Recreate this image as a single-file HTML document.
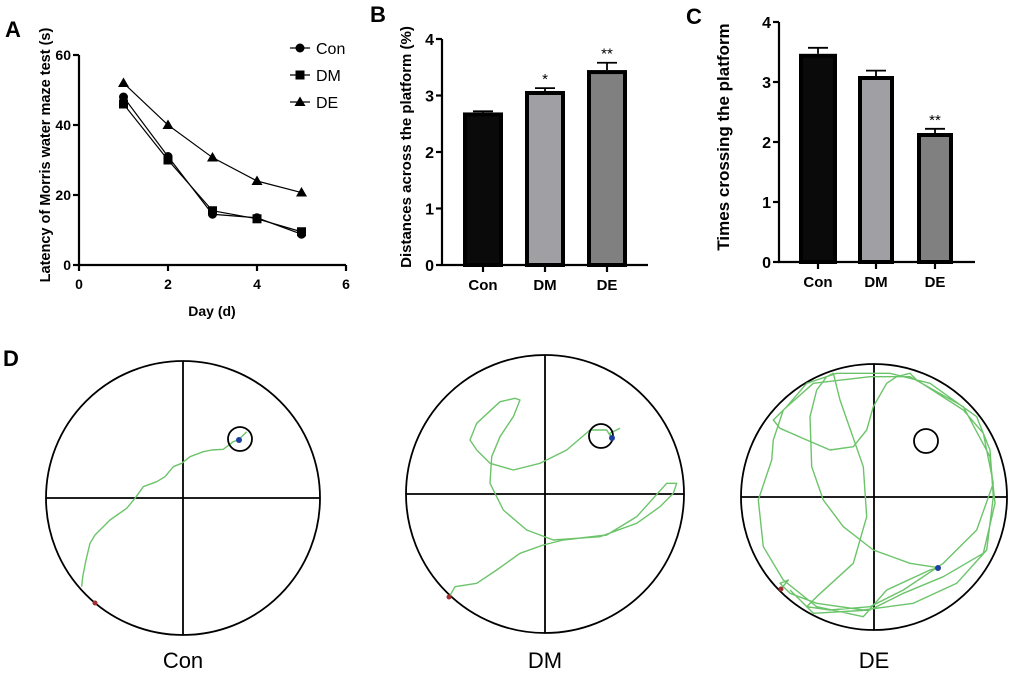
<!DOCTYPE html>
<html><head><meta charset="utf-8"><style>
html,body{margin:0;padding:0;background:#fff;}
svg text{font-family:"Liberation Sans",Arial,sans-serif;}
</style></head><body>
<svg id="fig" width="1020" height="682" viewBox="0 0 1020 682" xmlns="http://www.w3.org/2000/svg">
<g id="A"></g>
<g id="B"></g>
<g id="C"></g>
<g id="D"></g>
</svg>
<script>
const days=[1,2,3,4,5];
const conLatency=[48,31,14.5,13.5,8.8];
const dmLatency=[46,30,15.5,13.2,9.5];
const deLatency=[52,40,30.7,24,20.7];
const aXTicks=[0,2,4,6];
const aYTicks=[0,20,40,60];
const groups=["Con","DM","DE"];
const bValues=[2.7,3.08,3.45];
const bErrors=[0.02,0.05,0.13];
const bStars=["","*","**"];
const cValues=[3.47,3.1,2.15];
const cErrors=[0.1,0.09,0.07];
const cStars=["","","**"];
const barTicks=[0,1,2,3,4];

const NS="http://www.w3.org/2000/svg";
function mk(parent,tag,attrs,text){const e=document.createElementNS(NS,tag);for(const k in attrs)e.setAttribute(k,attrs[k]);if(text!==undefined)e.textContent=text;parent.appendChild(e);return e;}

// Panel A
(function(){
const g=document.getElementById('A');
const x=v=>79+(v/6)*267, y=v=>265-(v/60)*210;
let t=mk(g,'text',{x:5,y:37,'font-size':22,'font-weight':'bold'},'A');


let ax=mk(g,'path',{d:`M79,${y(60)} V265 H346`,stroke:'#000','stroke-width':2.2,fill:'none'});


aXTicks.forEach(v=>{mk(g,'line',{x1:x(v),x2:x(v),y1:265,y2:271,stroke:'#000','stroke-width':2.2});
 let l=mk(g,'text',{x:x(v),y:289,'font-size':14,'font-weight':'bold','text-anchor':'middle'},v);
 
 });
aYTicks.forEach(v=>{mk(g,'line',{x1:73,x2:79,y1:y(v),y2:y(v),stroke:'#000','stroke-width':2.2});
 let l=mk(g,'text',{x:71,y:y(v)+5,'font-size':14,'font-weight':'bold','text-anchor':'end'},v);
 
 });
let xt=mk(g,'text',{x:212,y:316,'font-size':14,'font-weight':'bold','text-anchor':'middle'},'Day (d)');


let yt=mk(g,'text',{x:0,y:0,'font-size':14.5,'font-weight':'bold','text-anchor':'middle',transform:'translate(50,155) rotate(-90)'},'Latency of Morris water maze test  (s)');


function marker(gp,shape,cx,cy){
 if(shape==='c')return mk(gp,'circle',{cx:cx,cy:cy,r:4.5,fill:'#000'});
 if(shape==='s')return mk(gp,'rect',{x:cx-4.5,y:cy-4.5,width:9,height:9,fill:'#000'});
 return mk(gp,'path',{d:`M${cx},${cy-5.5} L${cx+5.5},${cy+4} L${cx-5.5},${cy+4}Z`,fill:'#000'});}
const series=[[conLatency,'c','Con'],[dmLatency,'s','DM'],[deLatency,'t','DE']];
series.forEach((s,i)=>{
 const gp=mk(g,'g',{});
 
 
 mk(gp,'polyline',{points:days.map((d,j)=>x(d)+','+y(s[0][j])).join(' '),fill:'none',stroke:'#000','stroke-width':1.2});
 days.forEach((d,j)=>{const m=marker(gp,s[1],x(d),y(s[0][j]));
  
  });
 const ly=48+i*27;
 const lg=mk(g,'g',{});
 
 
 mk(lg,'line',{x1:290,x2:310,y1:ly,y2:ly,stroke:'#000','stroke-width':1.2});
 marker(lg,s[1],300,ly);
 mk(lg,'text',{x:316,y:ly+6,'font-size':16},s[2]);
});
})();

function bars(id,letter,lx,ly,ax,y0,y4,xEnd,lefts,rights,vals,errs,stars,title,tx,tfs){
 const g=document.getElementById(id);
 const y=v=>y0-(v/4)*(y0-y4);
 let t=mk(g,'text',{x:lx,y:ly,'font-size':22,'font-weight':'bold'},letter);
 
 
 const fills=['#0a0a0a','#a0a0a4','#808080'];
 groups.forEach((gname,i)=>{
  const l=lefts[i],r=rights[i],c=(l+r)/2;
  const bg=mk(g,'g',{});
  
  
  mk(bg,'line',{x1:c,x2:c,y1:y(vals[i]),y2:y(vals[i]+errs[i]),stroke:'#000','stroke-width':1.8});
  mk(bg,'line',{x1:c-10,x2:c+10,y1:y(vals[i]+errs[i]),y2:y(vals[i]+errs[i]),stroke:'#000','stroke-width':1.8});
  mk(bg,'rect',{x:l+2,y:y(vals[i])+2,width:r-l-4,height:y0-y(vals[i])-2,fill:fills[i],stroke:'#000','stroke-width':4});
  if(stars[i]){mk(bg,'text',{x:c,y:y(vals[i]+errs[i])-4,'font-size':15,'text-anchor':'middle'},stars[i]);}
  mk(g,'line',{x1:c,x2:c,y1:y0,y2:y0+7,stroke:'#000','stroke-width':2.2});
  let lb=mk(g,'text',{x:c,y:y0+25,'font-size':15,'font-weight':'bold','text-anchor':'middle'},gname);
  
  
 });
 let a=mk(g,'path',{d:`M${ax},${y4} V${y0} H${xEnd}`,stroke:'#000','stroke-width':2.2,fill:'none'});
 
 
 barTicks.forEach(v=>{mk(g,'line',{x1:ax-6,x2:ax,y1:y(v),y2:y(v),stroke:'#000','stroke-width':2.2});
  let l=mk(g,'text',{x:ax-8,y:y(v)+6,'font-size':16,'font-weight':'bold','text-anchor':'end'},v);
  
  });
 let yt=mk(g,'text',{x:0,y:0,'font-size':tfs,'font-weight':'bold','text-anchor':'middle',transform:`translate(${tx},${(y0+y4)/2-5}) rotate(-90)`},title);
 
 
}
bars('B','B',370,22,442,265,39,648,[463,525,587],[503,565,627],bValues,bErrors,bStars,'Distances across the platform (%)',411,15);
bars('C','C',686,24,779,262,22,975,[799,858,917],[837,894,953],cValues,cErrors,cStars,'Times crossing the platform',729,17);

// Panel D
(function(){
const g=document.getElementById('D');
let t=mk(g,'text',{x:3,y:366,'font-size':22,'font-weight':'bold'},'D');


const arenas=[
 {name:'Con',cx:183,cy:498,r:137,plat:[240,439],blue:[239,440],red:[95,603],off:[0,310],
  pts:[[245,830],[248,800],[258,750],[270,700],[285,675],[330,630],[380,595],[405,565],[430,530],[470,515],[495,500],[520,470],[545,460],[570,440],[610,425],[635,420],[670,418],[700,395],[715,390],[740,365]]},
 {name:'DM',cx:545,cy:494,r:139,plat:[601,436],blue:[612,438],red:[449,597],off:[420,350],
  pts:[[88,740],[105,710],[170,700],[230,660],[300,610],[370,585],[430,570],[560,555],[650,500],[740,400],[770,400],[760,430],[720,470],[650,520],[540,560],[400,570],[320,540],[250,480],[210,400],[215,320],[240,260],[280,200],[300,150],[285,145],[240,155],[170,220],[150,270],[170,300],[210,340],[280,360],[360,340],[440,300],[510,240],[560,240],[575,265],[570,250],[600,235]]},
 {name:'DE',cx:874,cy:497,r:133,plat:[926,441],blue:[938,568],red:[781,589],off:[730,350],
  pts:[[152,718],[175,690],[150,700],[180,730],[260,760],[400,780],[550,760],[680,700],[770,600],[790,440],[780,300],[740,200],[600,100],[480,70],[320,70],[230,100],[170,170],[130,210],[150,235],[230,270],[300,300],[370,290],[410,240],[430,170],[470,100],[500,80],[540,70],[560,90],[700,180],[760,250],[790,400],[740,540],[640,640],[520,720],[420,770],[300,780],[230,770],[260,740],[370,640],[410,500],[400,350],[330,150],[310,70],[290,80],[260,120],[240,200],[245,350],[280,450],[340,530],[430,600],[540,640],[625,653],[600,660],[470,720],[400,800],[260,770],[160,690],[100,590],[85,450],[125,330],[130,270],[160,180],[250,100],[420,80],[540,80],[700,170],[780,320],[795,460],[760,610],[640,680],[520,730],[420,780],[250,790],[180,720]]}
];
arenas.forEach(a=>{
 const ag=mk(g,'g',{});
 
 
 mk(ag,'circle',{cx:a.cx,cy:a.cy,r:a.r,fill:'none',stroke:'#000','stroke-width':1.8});
 mk(ag,'line',{x1:a.cx-a.r,x2:a.cx+a.r,y1:a.cy,y2:a.cy,stroke:'#000','stroke-width':1.8});
 mk(ag,'line',{x1:a.cx,x2:a.cx,y1:a.cy-a.r,y2:a.cy+a.r,stroke:'#000','stroke-width':1.8});
 const p=mk(ag,'polyline',{points:a.pts.map(q=>(a.off[0]+q[0]/3).toFixed(1)+','+(a.off[1]+q[1]/3).toFixed(1)).join(' '),fill:'none',stroke:'#6cc46a','stroke-width':1.4,'stroke-linejoin':'round'});
 
 
 const pl=mk(ag,'circle',{cx:a.plat[0],cy:a.plat[1],r:12,fill:'none',stroke:'#000','stroke-width':1.8});
 
 
 mk(ag,'circle',{cx:a.blue[0],cy:a.blue[1],r:3,fill:'#1f3fa0'});
 mk(ag,'circle',{cx:a.red[0],cy:a.red[1],r:2.5,fill:'#a03030'});
 let l=mk(ag,'text',{x:a.cx,y:668,'font-size':22,'text-anchor':'middle'},a.name);
 
 
});
})();
</script>
</body></html>
